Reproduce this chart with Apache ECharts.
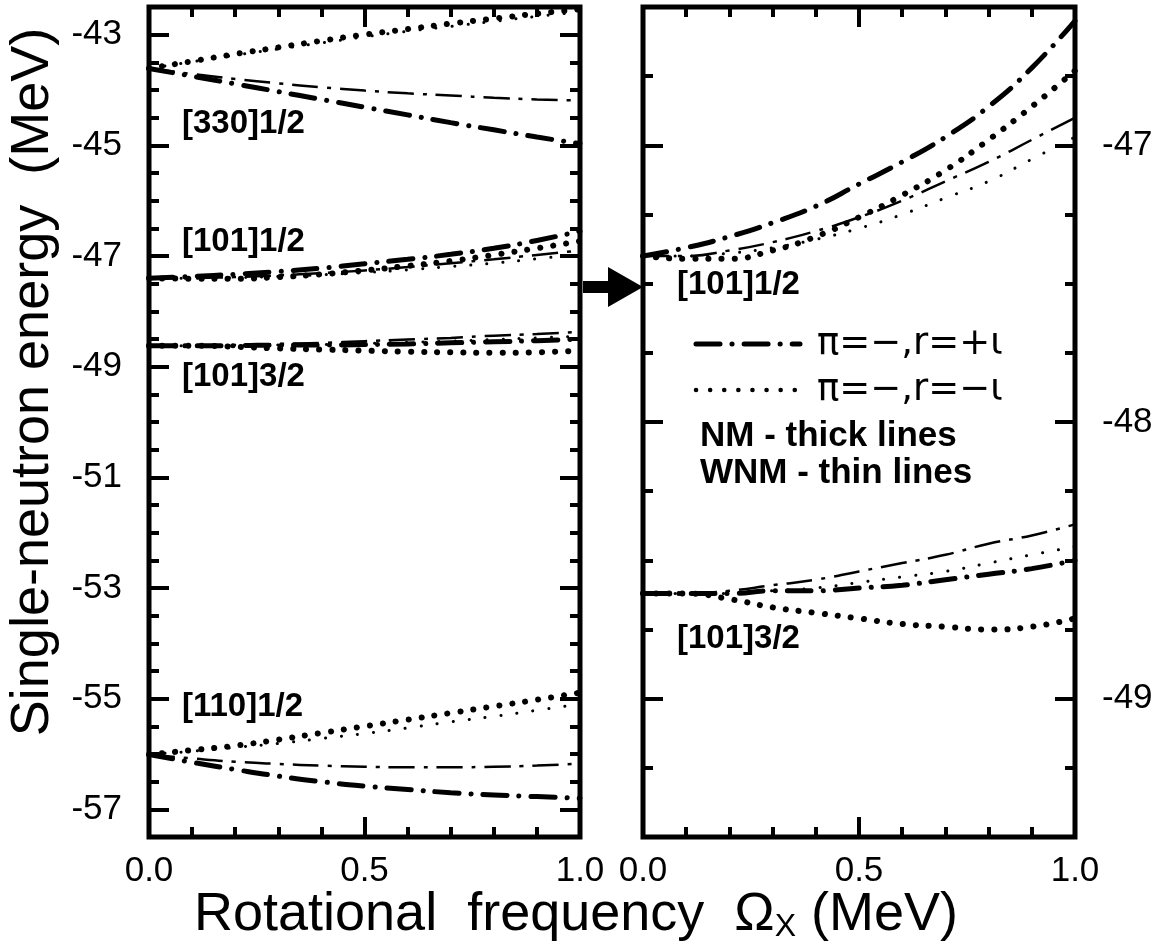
<!DOCTYPE html>
<html><head><meta charset="utf-8">
<script src="https://cdn.jsdelivr.net/npm/echarts@6/dist/echarts.min.js"></script>
<style>html,body{margin:0;padding:0;background:#fff}#c{width:1166px;height:951px}</style>
</head><body><div id="c"></div>
<script>
// ---------------- data ----------------
const omega = [0, 0.1, 0.2, 0.3, 0.4, 0.5, 0.6, 0.7, 0.8, 0.9, 1.0];

// [330]1/2 (left panel only)
const e330_NM_plus  = [-43.61,-43.75,-43.89,-44.03,-44.17,-44.31,-44.45,-44.59,-44.72,-44.85,-44.97];
const e330_WNM_plus = [-43.61,-43.71,-43.80,-43.88,-43.95,-44.01,-44.06,-44.10,-44.14,-44.17,-44.19];
const e330_NM_minus = [-43.61,-43.48,-43.35,-43.23,-43.11,-43.00,-42.90,-42.80,-42.71,-42.62,-42.54];
const e330_WNM_minus= [-43.61,-43.49,-43.37,-43.26,-43.15,-43.04,-42.94,-42.85,-42.76,-42.67,-42.59];

// [101]1/2 (both panels)
const e101a_NM_plus  = [-47.40,-47.37,-47.33,-47.28,-47.22,-47.14,-47.06,-46.97,-46.86,-46.72,-46.55];
const e101a_WNM_plus = [-47.40,-47.40,-47.38,-47.35,-47.31,-47.26,-47.20,-47.13,-47.06,-46.98,-46.90];
const e101a_NM_minus = [-47.40,-47.41,-47.41,-47.38,-47.33,-47.26,-47.18,-47.09,-46.98,-46.86,-46.73];
const e101a_WNM_minus= [-47.40,-47.40,-47.39,-47.37,-47.34,-47.30,-47.25,-47.19,-47.13,-47.05,-46.97];

// [101]3/2 (both panels)
const e101b_NM_plus  = [-48.62,-48.62,-48.62,-48.61,-48.61,-48.60,-48.59,-48.57,-48.55,-48.53,-48.50];
const e101b_WNM_plus = [-48.62,-48.62,-48.61,-48.59,-48.57,-48.54,-48.51,-48.48,-48.44,-48.41,-48.37];
const e101b_NM_minus = [-48.62,-48.62,-48.64,-48.67,-48.69,-48.71,-48.73,-48.74,-48.75,-48.74,-48.71];
const e101b_WNM_minus= [-48.62,-48.62,-48.62,-48.61,-48.60,-48.58,-48.56,-48.54,-48.51,-48.48,-48.45];

// [110]1/2 (left panel only)
const e110_NM_plus  = [-56.01,-56.15,-56.28,-56.40,-56.50,-56.58,-56.64,-56.70,-56.74,-56.77,-56.80];
const e110_WNM_plus = [-56.01,-56.08,-56.14,-56.18,-56.21,-56.23,-56.24,-56.24,-56.23,-56.21,-56.17];
const e110_NM_minus = [-56.01,-55.93,-55.85,-55.74,-55.62,-55.50,-55.38,-55.26,-55.14,-55.02,-54.89];
const e110_WNM_minus= [-56.01,-55.95,-55.88,-55.81,-55.72,-55.63,-55.53,-55.42,-55.32,-55.21,-55.10];

const leftYMajor  = [-57, -55, -53, -51, -49, -47, -45, -43];
const rightYMajor = [-49, -48, -47];
const legendNames = ['π=−,r=+ι', 'π=−,r=−ι'];

// ---------------- styles ----------------
const FONT = 'Liberation Sans, Arial, Helvetica, sans-serif';
const thickDD = {color:'#000', width:5, type:[24,12,0.1,12], cap:'round'};
const thinDD  = {color:'#000', width:2.5, type:[26,9,4,9], cap:'butt'};
const thickDot= {color:'#000', width:6, type:[0.1,13], cap:'round'};
const thinDot = {color:'#000', width:3, type:[0.1,16], cap:'round'};

function xAx(grid, pos, labels){
  return {type:'value', gridIndex:grid, position:pos, min:0, max:1, interval:0.5,
    axisLine:{show:false}, splitLine:{show:false},
    axisTick:{show:true, inside:true, length:20, lineStyle:{color:'#000', width:4}},
    minorTick:{show:true, splitNumber:5, length:10, lineStyle:{color:'#000', width:4}},
    axisLabel:{show:labels, margin:17, color:'#000', fontSize:35, fontFamily:FONT,
      formatter:v=>v.toFixed(1)}};
}
function yMajor(grid, pos, min, max, vals, labels){
  return {type:'value', gridIndex:grid, position:pos, min, max,
    axisLine:{show:false}, splitLine:{show:false},
    axisTick:{show:true, inside:true, length:20, customValues:vals, lineStyle:{color:'#000', width:4}},
    axisLabel:{show:labels, customValues:vals, margin:27, color:'#000', fontSize:35, fontFamily:FONT,
      formatter:v=>String(v)}};
}
function yMinor(grid, pos, min, max, step){
  return {type:'value', gridIndex:grid, position:pos, min, max, interval:step,
    axisLine:{show:false}, splitLine:{show:false}, axisLabel:{show:false},
    axisTick:{show:true, inside:true, length:10, lineStyle:{color:'#000', width:4}}};
}

const series = [];
function add(name, data, style, panel, z){
  series.push({type:'line', name, xAxisIndex: panel===0?0:2, yAxisIndex: panel===0?0:4,
    data: omega.map((x,i)=>[x,data[i]]), smooth:true, symbol:'none', showSymbol:false,
    lineStyle: style, itemStyle:{color:'#000'}, silent:true, z: z, animation:false});
}
add(legendNames[0], e330_NM_plus, thickDD, 0, 3);
add(legendNames[1], e330_NM_minus, thickDot, 0, 3);
add('WNM+ 330', e330_WNM_plus, thinDD, 0, 4);
add('WNM- 330', e330_WNM_minus, thinDot, 0, 4);
[[e101a_NM_plus,e101a_NM_minus,e101a_WNM_plus,e101a_WNM_minus],
 [e101b_NM_plus,e101b_NM_minus,e101b_WNM_plus,e101b_WNM_minus]].forEach((g,k)=>{
  [0,1].forEach(p=>{
    add(legendNames[0], g[0], thickDD, p, 3);
    add(legendNames[1], g[1], thickDot, p, 3);
    add('WNM+ 101 '+k, g[2], thinDD, p, 4);
    add('WNM- 101 '+k, g[3], thinDot, p, 4);
  });
});
add(legendNames[0], e110_NM_plus, thickDD, 0, 3);
add(legendNames[1], e110_NM_minus, thickDot, 0, 3);
add('WNM+ 110', e110_WNM_plus, thinDD, 0, 4);
add('WNM- 110', e110_WNM_minus, thinDot, 0, 4);

const txt = (x,y,t,size,weight,family)=>({type:'text', x, y, z:20,
  style:{text:t, fill:'#000', font: (weight||'normal')+' '+size+'px '+(family||FONT), textAlign:'left', textVerticalAlign:'middle'}});
const sample = (x1,x2,y,st)=>({type:'line', z:20, shape:{x1,y1:y,x2,y2:y},
  style:{stroke:'#000', lineWidth:st.width, lineDash:st.type, lineCap:st.cap}});

const option = {
  backgroundColor:'#fff',
  animation:false,
  grid:[
    {left:149, top:7, width:431, height:830, show:true, borderWidth:5, borderColor:'#000', backgroundColor:'transparent'},
    {left:643, top:7, width:432, height:830, show:true, borderWidth:5, borderColor:'#000', backgroundColor:'transparent'}
  ],
  xAxis:[ xAx(0,'bottom',true), xAx(0,'top',false), xAx(1,'bottom',true), xAx(1,'top',false) ],
  yAxis:[
    yMajor(0,'left',-57.5,-42.5,leftYMajor,true),
    yMinor(0,'left',-57.5,-42.5,0.5),
    yMajor(0,'right',-57.5,-42.5,leftYMajor,false),
    yMinor(0,'right',-57.5,-42.5,0.5),
    yMajor(1,'left',-49.5,-46.5,rightYMajor,false),
    yMinor(1,'left',-49.5,-46.5,0.25),
    yMajor(1,'right',-49.5,-46.5,rightYMajor,true),
    yMinor(1,'right',-49.5,-46.5,0.25)
  ],
  series,
  graphic:[
    txt(182,124,'[330]1/2',33,'bold'),
    txt(182,242,'[101]1/2',33,'bold'),
    txt(182,377,'[101]3/2',33,'bold'),
    txt(182,707,'[110]1/2',33,'bold'),
    txt(677,285,'[101]1/2',33,'bold'),
    txt(677,639,'[101]3/2',33,'bold'),
    sample(696,800,344,{width:5,type:[24,12,0.1,12],cap:'round'}),
    sample(696,795,390,{width:4.5,type:[0.1,14],cap:'round'}),
    txt(817,344,legendNames[0],37,'normal','DejaVu Sans'),
    txt(817,390,legendNames[1],37,'normal','DejaVu Sans'),
    txt(700,436,'NM - thick lines',35,'bold'),
    txt(700,473,'WNM - thin lines',35,'bold'),
    {type:'polygon', z:20, shape:{points:[[583,281],[608,281],[608,267],[643,287],[608,307],[608,293],[583,293]]}, style:{fill:'#000'}},
    {type:'text', z:20, x:33, y:382, rotation:Math.PI/2,
      style:{text:'Single-neutron energy  (MeV)', fill:'#000', font:'normal 54px '+FONT, textAlign:'center', textVerticalAlign:'middle'}},
    {type:'text', z:20, x:576, y:915,
      style:{text:'{a|Rotational  frequency  Ω}{s|X}{a| (MeV)}', fill:'#000', textAlign:'center', textVerticalAlign:'middle',
        rich:{a:{fontSize:54, fontFamily:FONT, lineHeight:56, fill:'#000'}, s:{fontSize:32, fontFamily:FONT, lineHeight:20, verticalAlign:'bottom', fill:'#000'}}}}
  ]
};
const chart = echarts.init(document.getElementById('c'), null, {renderer:'canvas'});
chart.setOption(option);
</script>
</body></html>
